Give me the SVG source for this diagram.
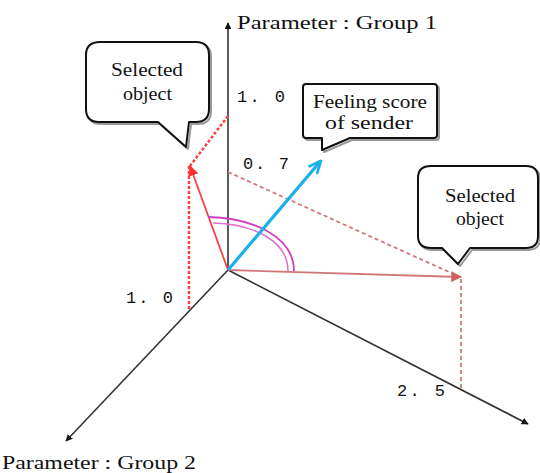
<svg xmlns="http://www.w3.org/2000/svg" width="540" height="473" viewBox="0 0 540 473">
<defs>
<style>
.axis{stroke:#333;stroke-width:1.6;fill:none}
text.serif{font-family:"Liberation Serif","DejaVu Serif",serif;fill:#111}
text.mono{font-family:"Liberation Mono","DejaVu Sans Mono",monospace;fill:#111;font-size:17px}
.bubble{fill:#fff;stroke:#111;stroke-width:2;stroke-linejoin:round}
.shadow{fill:none;stroke:#999;stroke-width:2;stroke-linejoin:round}
.red{stroke:#ff4040;stroke-width:1.8;fill:none}
.redd{stroke:#ff4040;stroke-width:2.5;fill:none;stroke-dasharray:3 2}
.pink{stroke:#d07878;stroke-width:1.8;fill:none}
.pinkd{stroke:#d07878;stroke-width:1.8;fill:none;stroke-dasharray:4 3}
</style>
<marker id="ak" viewBox="0 0 10 10" refX="9" refY="5" markerWidth="7" markerHeight="7" markerUnits="userSpaceOnUse" orient="auto"><path d="M0,0L10,5L0,10z" fill="#111"/></marker>
<marker id="ar" viewBox="0 0 10 10" refX="9" refY="5" markerWidth="6" markerHeight="6" orient="auto"><path d="M0,0L10,5L0,10z" fill="#ff3030"/></marker>
<marker id="ap" viewBox="0 0 10 10" refX="9" refY="5" markerWidth="6" markerHeight="6" orient="auto"><path d="M0,0L10,5L0,10z" fill="#d06060"/></marker>
<marker id="ab" viewBox="0 0 10 10" refX="7" refY="5" markerWidth="14" markerHeight="14" markerUnits="userSpaceOnUse" orient="auto"><path d="M0,1L9,5L0,9" fill="none" stroke="#1ab0ea" stroke-width="2"/></marker>
</defs>
<rect width="540" height="473" fill="#fff"/>

<g id="connectors">
  <line class="axis" x1="228" y1="270" x2="228" y2="23" stroke="#111" stroke-width="2" marker-end="url(#ak)"/>
  <line class="axis" x1="228" y1="270" x2="66" y2="441" marker-end="url(#ak)"/>
  <line class="axis" x1="228" y1="270" x2="528" y2="424" marker-end="url(#ak)"/>
  <line class="redd" x1="189" y1="166" x2="189" y2="309"/>
  <line class="redd" x1="228" y1="116" x2="190" y2="166" stroke-width="1.8" stroke-dasharray="3 3"/>
  <line class="red" x1="228" y1="270" x2="190" y2="166" marker-end="url(#ar)"/>
  <line class="pinkd" x1="228" y1="172" x2="460" y2="277"/>
  <line class="pinkd" x1="461" y1="279" x2="461" y2="389" stroke-dasharray="4 2.5"/>
  <line class="pink" x1="228" y1="270" x2="461" y2="277" marker-end="url(#ap)"/>
  <path d="M208,217 C252,218 294,236 294,271" fill="none" stroke="#d040c0" stroke-width="1.8"/>
  <path d="M213,223 C252,224 288,240 288,271" fill="none" stroke="#e070d0" stroke-width="1.5"/>
  <line x1="228" y1="270" x2="319" y2="163" stroke="#1ab0ea" stroke-width="3.2" marker-end="url(#ab)"/>
</g>

<g id="axis-label-1"><text class="serif" font-family="Liberation Serif, serif" x="237" y="29" font-size="19" textLength="200" lengthAdjust="spacingAndGlyphs">Parameter : Group 1</text></g>
<g id="axis-label-2"><text class="serif" font-family="Liberation Serif, serif" x="2" y="469" font-size="19" textLength="194" lengthAdjust="spacingAndGlyphs">Parameter : Group 2</text></g>

<g id="tick-1-0-top"><text class="mono" x="237" y="102" textLength="48" lengthAdjust="spacing">1. 0</text></g>
<g id="tick-0-7"><text class="mono" x="243" y="169" textLength="46" lengthAdjust="spacing">0. 7</text></g>
<g id="tick-1-0-left"><text class="mono" x="126" y="303" textLength="47" lengthAdjust="spacing">1. 0</text></g>
<g id="tick-2-5"><text class="mono" x="397" y="396" textLength="48" lengthAdjust="spacing">2. 5</text></g>

<g id="callout-left">
  <path class="shadow" transform="translate(2,2)" d="M100,42 H196 Q209,42 209,55 V109 Q209,122 196,122 H189 L186,147 L158,122 H99 Q86,122 86,109 V55 Q86,42 100,42 Z"/>
  <path class="bubble" d="M100,42 H196 Q209,42 209,55 V109 Q209,122 196,122 H189 L186,147 L158,122 H99 Q86,122 86,109 V55 Q86,42 100,42 Z"/>
  <text class="serif" font-family="Liberation Serif, serif" x="111" y="76" font-size="18" textLength="72" lengthAdjust="spacingAndGlyphs">Selected</text>
  <text class="serif" font-family="Liberation Serif, serif" x="123" y="100" font-size="18" textLength="49" lengthAdjust="spacingAndGlyphs">object</text>
</g>

<g id="callout-sender">
  <path class="shadow" transform="translate(2,2)" d="M306,84 H434 Q437,84 437,87 V135 Q437,138 434,138 H350 L322,150 L322,138 H306 Q303,138 303,135 V87 Q303,84 306,84 Z"/>
  <path class="bubble" d="M306,84 H434 Q437,84 437,87 V135 Q437,138 434,138 H350 L322,150 L322,138 H306 Q303,138 303,135 V87 Q303,84 306,84 Z"/>
  <text class="serif" font-family="Liberation Serif, serif" x="313" y="108" font-size="18" textLength="114" lengthAdjust="spacingAndGlyphs">Feeling score</text>
  <text class="serif" font-family="Liberation Serif, serif" x="325" y="129" font-size="18" textLength="88" lengthAdjust="spacingAndGlyphs">of sender</text>
</g>

<g id="callout-right">
  <path class="shadow" transform="translate(2,2)" d="M431,166 H526 Q538,166 538,178 V236 Q538,248 526,248 H470 L458,264 L442,248 H431 Q418,248 418,236 V178 Q418,166 431,166 Z"/>
  <path class="bubble" d="M431,166 H526 Q538,166 538,178 V236 Q538,248 526,248 H470 L458,264 L442,248 H431 Q418,248 418,236 V178 Q418,166 431,166 Z"/>
  <text class="serif" font-family="Liberation Serif, serif" x="445" y="202" font-size="18" textLength="70" lengthAdjust="spacingAndGlyphs">Selected</text>
  <text class="serif" font-family="Liberation Serif, serif" x="456" y="225" font-size="18" textLength="48" lengthAdjust="spacingAndGlyphs">object</text>
</g>
</svg>
